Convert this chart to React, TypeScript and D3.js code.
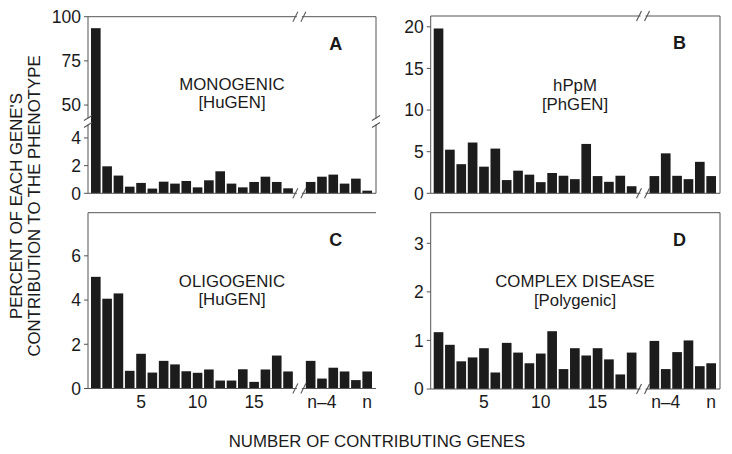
import React from "react";
import * as d3 from "d3";

// ---- data ----
const slotLabels = ["1","2","3","4","5","6","7","8","9","10","11","12","13","14","15","16","17","18","gap","n-5","n-4","n-3","n-2","n-1","n"];
const xTickSlots = ["5", "10", "15", "n-4", "n"];
const xTickText = ["5", "10", "15", "n\u20134", "n"];

const valuesA = [93.5, 1.95, 1.28, 0.48, 0.75, 0.34, 0.84, 0.70, 0.89, 0.43, 0.94, 1.59, 0.70, 0.43, 0.82, 1.2, 0.82, 0.36, 0.82, 1.2, 1.35, 0.70, 1.06, 0.19];
const valuesB = [19.8, 5.24, 3.5, 6.1, 3.2, 5.37, 1.59, 2.72, 2.24, 1.34, 2.44, 2.11, 1.7, 5.93, 2.07, 1.38, 2.11, 0.85, 2.07, 4.8, 2.1, 1.7, 3.78, 2.07];
const valuesC = [5.05, 4.06, 4.3, 0.8, 1.57, 0.72, 1.25, 1.09, 0.78, 0.71, 0.86, 0.36, 0.36, 0.87, 0.3, 0.86, 1.49, 0.77, 1.25, 0.45, 0.94, 0.77, 0.38, 0.77];
const valuesD = [1.17, 0.91, 0.57, 0.65, 0.84, 0.34, 0.95, 0.75, 0.53, 0.73, 1.19, 0.41, 0.84, 0.69, 0.84, 0.61, 0.3, 0.75, 0.99, 0.41, 0.76, 1.0, 0.47, 0.53];

const ticksALow = [0, 2, 4];
const ticksAHigh = [50, 75, 100];
const ticksB = [0, 5, 10, 15, 20];
const ticksC = [0, 2, 4, 6];
const ticksD = [0, 1, 2, 3];

const FONT = "'Liberation Sans', Arial, Helvetica, sans-serif";
const LINE = "#555";
const BAR = "#1c1c1c";
const TXT = "#1a1a1a";
const FS = 16.8;
const TICKFS = 17.5;

const dataSlots = slotLabels.filter((s) => s !== "gap");

type Panel = {
  key: string;
  left: number; right: number; top: number; bottom: number;
  values: number[];
  y: (v: number) => number;
  ticks: number[];
  title: string[];
  titleX: number; titleY: number; lineGap: number;
  topBreak: boolean; rightBorder: boolean; yBreak: boolean; xLabels: boolean;
};

function Slash({ x1, y1, x2, y2 }: any) {
  return <line x1={x1} y1={y1} x2={x2} y2={y2} stroke={LINE} strokeWidth={1.1} />;
}

function PanelView({ p }: { p: Panel }) {
  const x = d3.scaleBand<string>().domain(slotLabels).range([p.left + 3, p.right - 4]).paddingInner(0.15).paddingOuter(0);
  const bw = x.bandwidth();
  const gapC = (x("gap") as number) + bw / 2;
  const y0 = p.y(0);
  const g1 = gapC - 2.5, g2 = gapC + 2.5;
  const yb1 = 118.5, yb2 = 124.5; // y-break (panel A only)
  const els: any[] = [];
  p.values.forEach((v, i) => {
    const s = dataSlots[i];
    const yy = p.y(v);
    els.push(<rect key={"b" + i} x={x(s)} y={yy} width={bw} height={y0 - yy} fill={BAR} />);
  });
  if (p.yBreak) {
    els.push(<line key="la1" x1={p.left} y1={p.top} x2={p.left} y2={yb1} stroke={LINE} />);
    els.push(<line key="la2" x1={p.left} y1={yb2} x2={p.left} y2={p.bottom} stroke={LINE} />);
    els.push(<Slash key="ls1" x1={p.left - 4} y1={yb1 + 2} x2={p.left + 4} y2={yb1 - 3} />);
    els.push(<Slash key="ls2" x1={p.left - 4} y1={yb2 + 3} x2={p.left + 4} y2={yb2 - 2} />);
  } else {
    els.push(<line key="la" x1={p.left} y1={p.top} x2={p.left} y2={p.bottom} stroke={LINE} />);
  }
  if (p.rightBorder) {
    if (p.yBreak) {
      els.push(<line key="ra1" x1={p.right} y1={p.top} x2={p.right} y2={yb1} stroke={LINE} />);
      els.push(<line key="ra2" x1={p.right} y1={yb2} x2={p.right} y2={p.bottom} stroke={LINE} />);
      els.push(<Slash key="rs1" x1={p.right - 4} y1={yb1 + 2} x2={p.right + 4} y2={yb1 - 3} />);
      els.push(<Slash key="rs2" x1={p.right - 4} y1={yb2 + 3} x2={p.right + 4} y2={yb2 - 2} />);
    } else {
      els.push(<line key="ra" x1={p.right} y1={p.top} x2={p.right} y2={p.bottom} stroke={LINE} />);
    }
  }
  if (p.topBreak) {
    els.push(<line key="t1" x1={p.left} y1={p.top} x2={g1} y2={p.top} stroke={LINE} />);
    els.push(<line key="t2" x1={g2} y1={p.top} x2={p.right} y2={p.top} stroke={LINE} />);
    els.push(<Slash key="ts1" x1={gapC - 6.5} y1={p.top + 5} x2={gapC - 1.5} y2={p.top - 5} />);
    els.push(<Slash key="ts2" x1={gapC + 1.5} y1={p.top + 5} x2={gapC + 6.5} y2={p.top - 5} />);
  } else {
    els.push(<line key="t" x1={p.left} y1={p.top} x2={p.right} y2={p.top} stroke={LINE} />);
  }
  els.push(<line key="bo1" x1={p.left} y1={p.bottom} x2={g1} y2={p.bottom} stroke={LINE} />);
  els.push(<line key="bo2" x1={g2} y1={p.bottom} x2={p.right} y2={p.bottom} stroke={LINE} />);
  els.push(<Slash key="bs1" x1={gapC - 6.5} y1={p.bottom + 5} x2={gapC - 1.5} y2={p.bottom - 5} />);
  els.push(<Slash key="bs2" x1={gapC + 1.5} y1={p.bottom + 5} x2={gapC + 6.5} y2={p.bottom - 5} />);
  p.ticks.forEach((t, i) => {
    const yy = p.y(t);
    els.push(<line key={"yt" + i} x1={p.left - 4} y1={yy} x2={p.left} y2={yy} stroke={LINE} />);
    els.push(
      <text key={"yl" + i} x={p.left - 7} y={yy} dy="0.36em" textAnchor="end" fontSize={TICKFS} fill={TXT} fontFamily={FONT}>
        {t}
      </text>
    );
  });
  if (p.xLabels) {
    xTickSlots.forEach((s, i) => {
      els.push(
        <text key={"xl" + i} x={(x(s) as number) + bw / 2} y={402} dy="0.36em" textAnchor="middle" fontSize={TICKFS} fill={TXT} fontFamily={FONT}>
          {xTickText[i]}
        </text>
      );
    });
  }
  els.push(
    <text key="letter" x={p.left + (p.right - p.left) * 0.86} y={p.top + 27} dy="0.36em" textAnchor="middle" fontSize={18} fontWeight="bold" fill={TXT} fontFamily={FONT}>
      {p.key}
    </text>
  );
  p.title.forEach((t, i) => {
    els.push(
      <text key={"ti" + i} x={p.titleX} y={p.titleY + i * p.lineGap} dy="0.36em" textAnchor="middle" fontSize={FS} fill={TXT} fontFamily={FONT}>
        {t}
      </text>
    );
  });
  return <g>{els}</g>;
}

export default function App() {
  const aLow = d3.scaleLinear().domain([0, 5.1]).range([193.3, 122.7]);
  const aHigh = d3.scaleLinear().domain([40, 100]).range([122.7, 16.7]);
  const yA = (v: number) => (v <= 5.1 ? aLow(v) : aHigh(v));
  const yB = d3.scaleLinear().domain([0, 21.3]).range([193.3, 16]);
  const yC = d3.scaleLinear().domain([0, 7.95]).range([388.5, 212.7]);
  const yD = d3.scaleLinear().domain([0, 3.63]).range([389, 212.7]);

  const panels: Panel[] = [
    { key: "A", left: 88, right: 376, top: 16.7, bottom: 193.3, values: valuesA, y: yA, ticks: [...ticksALow, ...ticksAHigh],
      title: ["MONOGENIC", "[HuGEN]"], titleX: 232, titleY: 83.5, lineGap: 18, topBreak: true, rightBorder: true, yBreak: true, xLabels: false },
    { key: "B", left: 430.7, right: 720, top: 16, bottom: 193.3, values: valuesB, y: (v: number) => yB(v), ticks: ticksB,
      title: ["hPpM", "[PhGEN]"], titleX: 575, titleY: 84.5, lineGap: 19.5, topBreak: true, rightBorder: true, yBreak: false, xLabels: false },
    { key: "C", left: 88, right: 376, top: 212.7, bottom: 388.5, values: valuesC, y: (v: number) => yC(v), ticks: ticksC,
      title: ["OLIGOGENIC", "[HuGEN]"], titleX: 232, titleY: 280.5, lineGap: 18.5, topBreak: false, rightBorder: false, yBreak: false, xLabels: true },
    { key: "D", left: 430.7, right: 720, top: 212.7, bottom: 389, values: valuesD, y: (v: number) => yD(v), ticks: ticksD,
      title: ["COMPLEX DISEASE", "[Polygenic]"], titleX: 575, titleY: 280.5, lineGap: 19, topBreak: false, rightBorder: true, yBreak: false, xLabels: true },
  ];

  return (
    <svg width={732} height={454} style={{ position: "absolute", left: 0, top: 0, background: "#fff" }} fontFamily={FONT}>
      <rect x={0} y={0} width={732} height={454} fill="#fff" />
      {panels.map((p) => (
        <PanelView key={p.key} p={p} />
      ))}
      <g transform="translate(15.5,206) rotate(-90)">
        <text textAnchor="middle" dy="0.36em" fontSize={FS} fill={TXT} fontFamily={FONT}>PERCENT OF EACH GENE'S</text>
      </g>
      <g transform="translate(33.7,206) rotate(-90)">
        <text textAnchor="middle" dy="0.36em" fontSize={FS} fill={TXT} fontFamily={FONT}>CONTRIBUTION TO THE PHENOTYPE</text>
      </g>
      <text x={377} y={441} dy="0.36em" textAnchor="middle" fontSize={FS} fill={TXT} fontFamily={FONT}>
        NUMBER OF CONTRIBUTING GENES
      </text>
    </svg>
  );
}
